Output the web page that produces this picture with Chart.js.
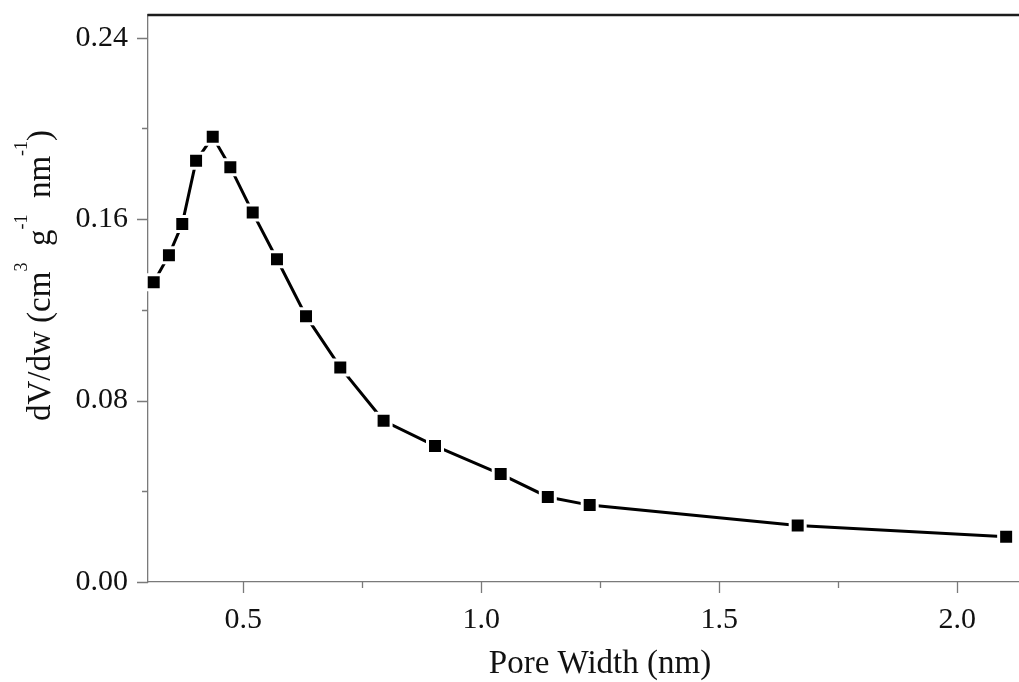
<!DOCTYPE html>
<html>
<head>
<meta charset="utf-8">
<script src="https://cdn.jsdelivr.net/npm/chart.js@4/dist/chart.umd.min.js"></script>
<style>
  html, body { margin: 0; padding: 0; background: #fff; overflow: hidden; }
  #wrap { width: 1019px; height: 682px; position: relative; }
</style>
</head>
<body>
<div id="wrap"><canvas id="c" width="1019" height="682"></canvas></div>
<script>
// ---- data ----
const poreWidth = [0.312, 0.344, 0.372, 0.401, 0.436, 0.473, 0.520, 0.571, 0.632, 0.704, 0.795, 0.903, 1.041, 1.140, 1.228, 1.665, 2.103];
const dVdw      = [0.1322, 0.1441, 0.1579, 0.1857, 0.1963, 0.1829, 0.1629, 0.1423, 0.1172, 0.0946, 0.0711, 0.0600, 0.0476, 0.0375, 0.0339, 0.0249, 0.0200];

const xMajorTicks = [0.5, 1.0, 1.5, 2.0];
const xMinorTicks = [0.75, 1.25, 1.75];
const yMajorTicks = [0.00, 0.08, 0.16, 0.24];
const yMinorTicks = [0.04, 0.12, 0.20];

const xTitle = 'Pore Width (nm)';
// [text, isSuperscript]
const yTitleParts = [['dV/dw (cm', false], ['3', true], ['  g', false], ['-1', true], ['  nm', false], ['-1', true], [')', false]];

const SERIF = '"Liberation Serif", "Times New Roman", serif';
const AXIS_GREY = '#7a7a7a';

const axisDecor = {
  id: 'axisDecor',
  afterDraw(chart) {
    const { ctx, chartArea: a, scales: { x, y } } = chart;
    ctx.save();
    // ticks
    ctx.strokeStyle = AXIS_GREY;
    ctx.lineWidth = 1.3;
    ctx.beginPath();
    const xt = (v, len) => { const px = Math.round(x.getPixelForValue(v)) + 0.5; ctx.moveTo(px, a.bottom); ctx.lineTo(px, a.bottom + len); };
    const yt = (v, len) => { const py = Math.round(y.getPixelForValue(v)) + 0.5; ctx.moveTo(a.left, py); ctx.lineTo(a.left - len, py); };
    xMajorTicks.forEach(v => xt(v, 11));
    xMinorTicks.forEach(v => xt(v, 6));
    yMajorTicks.forEach(v => yt(v, 11));
    yMinorTicks.forEach(v => yt(v, 6));
    ctx.stroke();

    // top frame line
    ctx.strokeStyle = '#1c1c1c';
    ctx.lineWidth = 2.6;
    ctx.beginPath();
    ctx.moveTo(a.left - 0.5, a.top);
    ctx.lineTo(chart.width, a.top);
    ctx.stroke();

    // x title
    ctx.fillStyle = '#111';
    ctx.font = '33px ' + SERIF;
    ctx.textAlign = 'center';
    ctx.textBaseline = 'alphabetic';
    ctx.fillText(xTitle, 600, 673);

    // y title (rotated, with superscripts)
    ctx.translate(50, 421);
    ctx.rotate(-Math.PI / 2);
    ctx.textAlign = 'left';
    let pos = 0;
    yTitleParts.forEach(([t, sup]) => {
      ctx.font = (sup ? '18px ' : '33px ') + SERIF;
      ctx.fillText(t, pos, sup ? -23 : 0);
      pos += ctx.measureText(t).width;
    });
    ctx.restore();
  }
};

new Chart(document.getElementById('c'), {
  type: 'scatter',
  data: {
    datasets: [{
      data: poreWidth.map((w, i) => ({ x: w, y: dVdw[i] })),
      showLine: true,
      borderColor: '#000',
      borderWidth: 3,
      tension: 0,
      pointStyle: 'rect',
      pointRadius: 10.6,
      pointBackgroundColor: '#000',
      pointBorderColor: '#fff',
      pointBorderWidth: 3,
      clip: false
    }]
  },
  options: {
    responsive: false,
    animation: false,
    events: [],
    layout: { autoPadding: false, padding: { top: 15, left: 0, right: 0, bottom: 0 } },
    plugins: { legend: { display: false }, tooltip: { enabled: false } },
    scales: {
      x: {
        type: 'linear',
        min: 0.3,
        max: 2.13,
        afterBuildTicks: s => { s.ticks = [...xMajorTicks, ...xMinorTicks].sort((p, q) => p - q).map(v => ({ value: v })); },
        afterFit: s => { s.height = 100; s.paddingLeft = 0; s.paddingRight = 0; },
        grid: { display: false, drawTicks: false },
        border: { display: true, color: AXIS_GREY, width: 1.3 },
        ticks: {
          autoSkip: false, maxRotation: 0, padding: 20, color: '#111',
          font: { family: SERIF, size: 30 },
          callback: v => xMajorTicks.includes(v) ? v.toFixed(1) : ''
        }
      },
      y: {
        type: 'linear',
        min: 0,
        max: 0.25,
        afterBuildTicks: s => { s.ticks = [...yMajorTicks, ...yMinorTicks].sort((p, q) => p - q).map(v => ({ value: v })); },
        afterFit: s => { s.width = 148; s.paddingTop = 0; s.paddingBottom = 0; },
        grid: { display: false, drawTicks: false },
        border: { display: true, color: AXIS_GREY, width: 1.3 },
        ticks: {
          autoSkip: false, padding: 20, color: '#111',
          font: { family: SERIF, size: 30 },
          callback: v => yMajorTicks.includes(v) ? v.toFixed(2) : ''
        }
      }
    }
  },
  plugins: [axisDecor]
});
</script>
</body>
</html>
